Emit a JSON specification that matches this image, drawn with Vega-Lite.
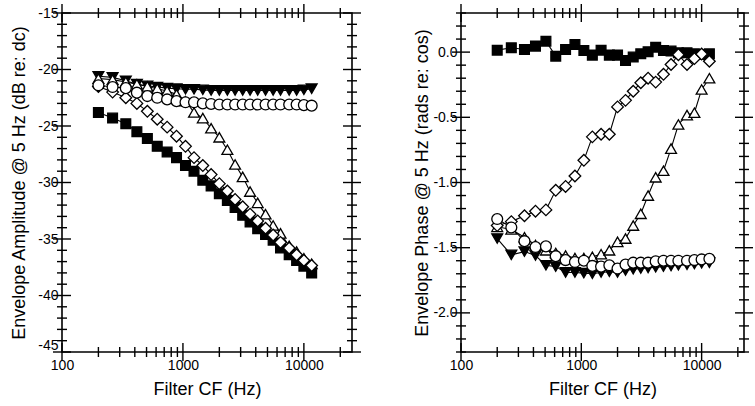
{
"$schema": "https://vega.github.io/schema/vega-lite/v6.json",
"padding": {"left": 9, "top": 3, "right": 8, "bottom": 0},
"config": {
 "font": "Liberation Sans",
 "view": {"stroke": "black", "strokeWidth": 1.6},
 "tick": {"color": "black", "thickness": 1.4, "opacity": 1},
 "axis": {"domain": false, "grid": false, "ticks": false, "labelColor": "black", "titleColor": "black", "labelFontSize": 14, "titleFontSize": 18, "titleFontWeight": "normal", "labelFont": "Liberation Sans", "titleFont": "Liberation Sans", "labelOverlap": false, "labelFlush": false}
},
"datasets": {
"xt": [{"t":100,"k":"M"},{"t":200,"k":"m"},{"t":300,"k":"m"},{"t":400,"k":"m"},{"t":500,"k":"m"},{"t":600,"k":"m"},{"t":700,"k":"m"},{"t":800,"k":"m"},{"t":900,"k":"m"},{"t":1000,"k":"M"},{"t":2000,"k":"m"},{"t":3000,"k":"m"},{"t":4000,"k":"m"},{"t":5000,"k":"m"},{"t":6000,"k":"m"},{"t":7000,"k":"m"},{"t":8000,"k":"m"},{"t":9000,"k":"m"},{"t":10000,"k":"M"},{"t":20000,"k":"m"}],
"ay": [{"t":-45,"k":"M"},{"t":-44,"k":"m"},{"t":-43,"k":"m"},{"t":-42,"k":"m"},{"t":-41,"k":"m"},{"t":-40,"k":"M"},{"t":-39,"k":"m"},{"t":-38,"k":"m"},{"t":-37,"k":"m"},{"t":-36,"k":"m"},{"t":-35,"k":"M"},{"t":-34,"k":"m"},{"t":-33,"k":"m"},{"t":-32,"k":"m"},{"t":-31,"k":"m"},{"t":-30,"k":"M"},{"t":-29,"k":"m"},{"t":-28,"k":"m"},{"t":-27,"k":"m"},{"t":-26,"k":"m"},{"t":-25,"k":"M"},{"t":-24,"k":"m"},{"t":-23,"k":"m"},{"t":-22,"k":"m"},{"t":-21,"k":"m"},{"t":-20,"k":"M"},{"t":-19,"k":"m"},{"t":-18,"k":"m"},{"t":-17,"k":"m"},{"t":-16,"k":"m"},{"t":-15,"k":"M"}],
"py": [{"t":-2.3,"k":"m"},{"t":-2.2,"k":"m"},{"t":-2.1,"k":"m"},{"t":-2.0,"k":"M"},{"t":-1.9,"k":"m"},{"t":-1.8,"k":"m"},{"t":-1.7,"k":"m"},{"t":-1.6,"k":"m"},{"t":-1.5,"k":"M"},{"t":-1.4,"k":"m"},{"t":-1.3,"k":"m"},{"t":-1.2,"k":"m"},{"t":-1.1,"k":"m"},{"t":-1.0,"k":"M"},{"t":-0.9,"k":"m"},{"t":-0.8,"k":"m"},{"t":-0.7,"k":"m"},{"t":-0.6,"k":"m"},{"t":-0.5,"k":"M"},{"t":-0.4,"k":"m"},{"t":-0.3,"k":"m"},{"t":-0.2,"k":"m"},{"t":-0.1,"k":"m"},{"t":0.0,"k":"M"},{"t":0.1,"k":"m"},{"t":0.2,"k":"m"},{"t":0.3,"k":"m"}],
"amp": [
{"s":"sq","cf":200,"v":-23.8},{"s":"sq","cf":262,"v":-24.3},{"s":"sq","cf":337,"v":-24.8},{"s":"sq","cf":416,"v":-25.5},{"s":"sq","cf":508,"v":-26.1},{"s":"sq","cf":613,"v":-26.8},{"s":"sq","cf":740,"v":-27.3},{"s":"sq","cf":885,"v":-27.8},{"s":"sq","cf":1050,"v":-28.5},{"s":"sq","cf":1235,"v":-29.0},{"s":"sq","cf":1460,"v":-29.8},{"s":"sq","cf":1710,"v":-30.3},{"s":"sq","cf":2000,"v":-31.0},{"s":"sq","cf":2330,"v":-31.6},{"s":"sq","cf":2700,"v":-32.2},{"s":"sq","cf":3120,"v":-32.9},{"s":"sq","cf":3590,"v":-33.5},{"s":"sq","cf":4150,"v":-34.1},{"s":"sq","cf":4820,"v":-34.6},{"s":"sq","cf":5570,"v":-35.1},{"s":"sq","cf":6410,"v":-35.8},{"s":"sq","cf":7560,"v":-36.4},{"s":"sq","cf":8710,"v":-36.9},{"s":"sq","cf":10000,"v":-37.4},{"s":"sq","cf":11600,"v":-38.0},
{"s":"td","cf":200,"v":-20.6},{"s":"td","cf":262,"v":-20.7},{"s":"td","cf":337,"v":-21.0},{"s":"td","cf":416,"v":-21.3},{"s":"td","cf":508,"v":-21.45},{"s":"td","cf":613,"v":-21.55},{"s":"td","cf":740,"v":-21.65},{"s":"td","cf":885,"v":-21.7},{"s":"td","cf":1050,"v":-21.75},{"s":"td","cf":1235,"v":-21.75},{"s":"td","cf":1460,"v":-21.8},{"s":"td","cf":1710,"v":-21.85},{"s":"td","cf":2000,"v":-21.85},{"s":"td","cf":2330,"v":-21.85},{"s":"td","cf":2700,"v":-21.85},{"s":"td","cf":3120,"v":-21.85},{"s":"td","cf":3590,"v":-21.85},{"s":"td","cf":4150,"v":-21.85},{"s":"td","cf":4820,"v":-21.85},{"s":"td","cf":5570,"v":-21.85},{"s":"td","cf":6410,"v":-21.85},{"s":"td","cf":7560,"v":-21.85},{"s":"td","cf":8710,"v":-21.85},{"s":"td","cf":10000,"v":-21.8},{"s":"td","cf":11600,"v":-21.7},
{"s":"tu","cf":200,"v":-20.8},{"s":"tu","cf":262,"v":-20.9},{"s":"tu","cf":337,"v":-21.1},{"s":"tu","cf":416,"v":-21.3},{"s":"tu","cf":508,"v":-21.5},{"s":"tu","cf":613,"v":-21.7},{"s":"tu","cf":740,"v":-21.9},{"s":"tu","cf":885,"v":-22.2},{"s":"tu","cf":1050,"v":-22.8},{"s":"tu","cf":1235,"v":-23.8},{"s":"tu","cf":1460,"v":-24.3},{"s":"tu","cf":1710,"v":-25.2},{"s":"tu","cf":2000,"v":-26.0},{"s":"tu","cf":2330,"v":-27.1},{"s":"tu","cf":2700,"v":-28.4},{"s":"tu","cf":3120,"v":-29.5},{"s":"tu","cf":3590,"v":-30.8},{"s":"tu","cf":4150,"v":-31.8},{"s":"tu","cf":4820,"v":-32.8},{"s":"tu","cf":5570,"v":-33.8},{"s":"tu","cf":6410,"v":-34.5},{"s":"tu","cf":7560,"v":-35.6},{"s":"tu","cf":8710,"v":-36.1},{"s":"tu","cf":10000,"v":-36.7},{"s":"tu","cf":11600,"v":-37.2},
{"s":"di","cf":200,"v":-21.5},{"s":"di","cf":262,"v":-22.0},{"s":"di","cf":337,"v":-22.5},{"s":"di","cf":416,"v":-23.0},{"s":"di","cf":508,"v":-23.7},{"s":"di","cf":613,"v":-24.4},{"s":"di","cf":740,"v":-25.1},{"s":"di","cf":885,"v":-25.9},{"s":"di","cf":1050,"v":-26.8},{"s":"di","cf":1235,"v":-27.8},{"s":"di","cf":1460,"v":-28.5},{"s":"di","cf":1710,"v":-29.3},{"s":"di","cf":2000,"v":-30.1},{"s":"di","cf":2330,"v":-30.75},{"s":"di","cf":2700,"v":-31.5},{"s":"di","cf":3120,"v":-32.15},{"s":"di","cf":3590,"v":-32.8},{"s":"di","cf":4150,"v":-33.4},{"s":"di","cf":4820,"v":-34.05},{"s":"di","cf":5570,"v":-34.65},{"s":"di","cf":6410,"v":-35.3},{"s":"di","cf":7560,"v":-35.8},{"s":"di","cf":8710,"v":-36.4},{"s":"di","cf":10000,"v":-36.9},{"s":"di","cf":11600,"v":-37.35},
{"s":"ci","cf":200,"v":-21.4},{"s":"ci","cf":262,"v":-21.55},{"s":"ci","cf":337,"v":-21.65},{"s":"ci","cf":416,"v":-22.05},{"s":"ci","cf":508,"v":-22.35},{"s":"ci","cf":613,"v":-22.5},{"s":"ci","cf":740,"v":-22.65},{"s":"ci","cf":885,"v":-22.8},{"s":"ci","cf":1050,"v":-22.9},{"s":"ci","cf":1235,"v":-22.9},{"s":"ci","cf":1460,"v":-23.0},{"s":"ci","cf":1710,"v":-23.05},{"s":"ci","cf":2000,"v":-23.1},{"s":"ci","cf":2330,"v":-23.1},{"s":"ci","cf":2700,"v":-23.1},{"s":"ci","cf":3120,"v":-23.1},{"s":"ci","cf":3590,"v":-23.1},{"s":"ci","cf":4150,"v":-23.1},{"s":"ci","cf":4820,"v":-23.1},{"s":"ci","cf":5570,"v":-23.1},{"s":"ci","cf":6410,"v":-23.1},{"s":"ci","cf":7560,"v":-23.1},{"s":"ci","cf":8710,"v":-23.1},{"s":"ci","cf":10000,"v":-23.15},{"s":"ci","cf":11600,"v":-23.2}
],
"phase": [
{"s":"sq","cf":200,"v":0.015},{"s":"sq","cf":262,"v":0.033},{"s":"sq","cf":337,"v":0.02},{"s":"sq","cf":416,"v":0.046},{"s":"sq","cf":508,"v":0.084},{"s":"sq","cf":613,"v":-0.031},{"s":"sq","cf":740,"v":0.02},{"s":"sq","cf":885,"v":0.059},{"s":"sq","cf":1050,"v":0.013},{"s":"sq","cf":1235,"v":-0.023},{"s":"sq","cf":1460,"v":0.015},{"s":"sq","cf":1710,"v":-0.023},{"s":"sq","cf":2000,"v":-0.023},{"s":"sq","cf":2330,"v":-0.064},{"s":"sq","cf":2700,"v":-0.038},{"s":"sq","cf":3120,"v":-0.013},{"s":"sq","cf":3590,"v":0.003},{"s":"sq","cf":4150,"v":0.038},{"s":"sq","cf":4820,"v":0.013},{"s":"sq","cf":5570,"v":0.008},{"s":"sq","cf":6410,"v":-0.005},{"s":"sq","cf":7560,"v":-0.005},{"s":"sq","cf":8710,"v":-0.013},{"s":"sq","cf":10000,"v":-0.018},{"s":"sq","cf":11600,"v":-0.013},
{"s":"td","cf":200,"v":-1.43},{"s":"td","cf":262,"v":-1.555},{"s":"td","cf":337,"v":-1.53},{"s":"td","cf":416,"v":-1.56},{"s":"td","cf":508,"v":-1.635},{"s":"td","cf":613,"v":-1.645},{"s":"td","cf":740,"v":-1.69},{"s":"td","cf":885,"v":-1.69},{"s":"td","cf":1050,"v":-1.695},{"s":"td","cf":1235,"v":-1.7},{"s":"td","cf":1460,"v":-1.69},{"s":"td","cf":1710,"v":-1.685},{"s":"td","cf":2000,"v":-1.69},{"s":"td","cf":2330,"v":-1.675},{"s":"td","cf":2700,"v":-1.665},{"s":"td","cf":3120,"v":-1.66},{"s":"td","cf":3590,"v":-1.655},{"s":"td","cf":4150,"v":-1.65},{"s":"td","cf":4820,"v":-1.645},{"s":"td","cf":5570,"v":-1.64},{"s":"td","cf":6410,"v":-1.635},{"s":"td","cf":7560,"v":-1.63},{"s":"td","cf":8710,"v":-1.625},{"s":"td","cf":10000,"v":-1.62},{"s":"td","cf":11600,"v":-1.615},
{"s":"tu","cf":200,"v":-1.34},{"s":"tu","cf":262,"v":-1.36},{"s":"tu","cf":337,"v":-1.42},{"s":"tu","cf":416,"v":-1.48},{"s":"tu","cf":508,"v":-1.52},{"s":"tu","cf":613,"v":-1.54},{"s":"tu","cf":740,"v":-1.56},{"s":"tu","cf":885,"v":-1.58},{"s":"tu","cf":1050,"v":-1.58},{"s":"tu","cf":1235,"v":-1.57},{"s":"tu","cf":1460,"v":-1.55},{"s":"tu","cf":1710,"v":-1.52},{"s":"tu","cf":2000,"v":-1.455},{"s":"tu","cf":2330,"v":-1.43},{"s":"tu","cf":2700,"v":-1.33},{"s":"tu","cf":3120,"v":-1.24},{"s":"tu","cf":3590,"v":-1.1},{"s":"tu","cf":4150,"v":-0.96},{"s":"tu","cf":4820,"v":-0.91},{"s":"tu","cf":5570,"v":-0.74},{"s":"tu","cf":6410,"v":-0.555},{"s":"tu","cf":7560,"v":-0.483},{"s":"tu","cf":8710,"v":-0.465},{"s":"tu","cf":10000,"v":-0.286},{"s":"tu","cf":11600,"v":-0.2},
{"s":"di","cf":200,"v":-1.33},{"s":"di","cf":262,"v":-1.3},{"s":"di","cf":337,"v":-1.255},{"s":"di","cf":416,"v":-1.22},{"s":"di","cf":508,"v":-1.21},{"s":"di","cf":613,"v":-1.06},{"s":"di","cf":740,"v":-1.03},{"s":"di","cf":885,"v":-0.95},{"s":"di","cf":1050,"v":-0.83},{"s":"di","cf":1235,"v":-0.65},{"s":"di","cf":1460,"v":-0.63},{"s":"di","cf":1710,"v":-0.63},{"s":"di","cf":2000,"v":-0.42},{"s":"di","cf":2330,"v":-0.37},{"s":"di","cf":2700,"v":-0.3},{"s":"di","cf":3120,"v":-0.235},{"s":"di","cf":3590,"v":-0.2},{"s":"di","cf":4150,"v":-0.23},{"s":"di","cf":4820,"v":-0.17},{"s":"di","cf":5570,"v":-0.095},{"s":"di","cf":6410,"v":-0.02},{"s":"di","cf":7560,"v":-0.095},{"s":"di","cf":8710,"v":-0.05},{"s":"di","cf":10000,"v":-0.015},{"s":"di","cf":11600,"v":-0.07},
{"s":"ci","cf":200,"v":-1.28},{"s":"ci","cf":262,"v":-1.345},{"s":"ci","cf":337,"v":-1.45},{"s":"ci","cf":416,"v":-1.495},{"s":"ci","cf":508,"v":-1.49},{"s":"ci","cf":613,"v":-1.565},{"s":"ci","cf":740,"v":-1.595},{"s":"ci","cf":885,"v":-1.61},{"s":"ci","cf":1050,"v":-1.6},{"s":"ci","cf":1235,"v":-1.64},{"s":"ci","cf":1460,"v":-1.645},{"s":"ci","cf":1710,"v":-1.635},{"s":"ci","cf":2000,"v":-1.66},{"s":"ci","cf":2330,"v":-1.63},{"s":"ci","cf":2700,"v":-1.615},{"s":"ci","cf":3120,"v":-1.615},{"s":"ci","cf":3590,"v":-1.615},{"s":"ci","cf":4150,"v":-1.605},{"s":"ci","cf":4820,"v":-1.6},{"s":"ci","cf":5570,"v":-1.6},{"s":"ci","cf":6410,"v":-1.6},{"s":"ci","cf":7560,"v":-1.6},{"s":"ci","cf":8710,"v":-1.595},{"s":"ci","cf":10000,"v":-1.59},{"s":"ci","cf":11600,"v":-1.585}
]
},
"bounds": "flush",
"spacing": 109,
"hconcat": [
{
 "width": 290, "height": 339,
 "layer": [
  {"data": {"name": "xt"}, "mark": {"type": "tick", "orient": "vertical"},
   "encoding": {"x": {"field": "t", "type": "quantitative", "axis": null}, "y": {"datum": -45, "type": "quantitative", "axis": null},
    "size": {"condition": {"test": "datum.k == 'M'", "value": 18}, "value": 10}}},
  {"data": {"name": "xt"}, "mark": {"type": "tick", "orient": "vertical"},
   "encoding": {"x": {"field": "t", "type": "quantitative", "axis": null}, "y": {"datum": -15, "type": "quantitative", "axis": null},
    "size": {"condition": {"test": "datum.k == 'M'", "value": 18}, "value": 10}}},
  {"data": {"name": "ay"}, "mark": {"type": "tick", "orient": "horizontal"},
   "encoding": {"y": {"field": "t", "type": "quantitative", "axis": null}, "x": {"datum": 100, "type": "quantitative", "axis": null},
    "size": {"condition": {"test": "datum.k == 'M'", "value": 18}, "value": 10}}},
  {"data": {"name": "ay"}, "mark": {"type": "tick", "orient": "horizontal"},
   "encoding": {"y": {"field": "t", "type": "quantitative", "axis": null}, "x": {"datum": 25000, "type": "quantitative", "axis": null},
    "size": {"condition": {"test": "datum.k == 'M'", "value": 18}, "value": 10}}},
  {"data": {"name": "amp"}, "mark": {"type": "line", "color": "black", "strokeWidth": 1.1},
   "encoding": {
    "x": {"field": "cf", "type": "quantitative", "scale": {"type": "log", "domain": [100, 25000], "nice": false},
      "axis": {"orient": "bottom", "values": [100, 1000, 10000], "format": "d", "labelPadding": 6, "title": "Filter CF (Hz)", "titlePadding": 8}},
    "y": {"field": "v", "type": "quantitative", "scale": {"domain": [-45, -15], "nice": false, "zero": false},
      "axis": {"orient": "left", "values": [-45, -40, -35, -30, -25, -20, -15],
        "labelExpr": "(datum.value < 0 ? '-' : '') + format(abs(datum.value), 'd')",
        "labelBaseline": {"condition": {"test": "datum.value == -45", "value": "bottom"}, "value": "middle"},
        "labelPadding": 4, "title": "Envelope Amplitude @ 5 Hz (dB re: dc)", "titlePadding": 9}},
    "detail": {"field": "s"}
   }},
  {"data": {"name": "amp"}, "mark": {"type": "point", "filled": true, "stroke": "black", "strokeWidth": 1.3, "opacity": 1},
   "encoding": {
    "x": {"field": "cf", "type": "quantitative", "axis": null},
    "y": {"field": "v", "type": "quantitative", "axis": null},
    "shape": {"field": "s", "type": "nominal", "scale": {"domain": ["sq","td","tu","di","ci"], "range": ["square","triangle-down","triangle-up","diamond","circle"]}, "legend": null},
    "fill": {"field": "s", "type": "nominal", "scale": {"domain": ["sq","td","tu","di","ci"], "range": ["black","black","white","white","white"]}, "legend": null},
    "size": {"condition": [{"test": "datum.s == 'sq'", "value": 95}, {"test": "datum.s == 'di'", "value": 135}], "value": 118}
   }}
 ],
 "resolve": {"axis": {"x": "independent", "y": "independent"}}
},
{
 "width": 283, "height": 339,
 "layer": [
  {"data": {"name": "xt"}, "mark": {"type": "tick", "orient": "vertical"},
   "encoding": {"x": {"field": "t", "type": "quantitative", "axis": null}, "y": {"datum": -2.3, "type": "quantitative", "axis": null},
    "size": {"condition": {"test": "datum.k == 'M'", "value": 18}, "value": 10}}},
  {"data": {"name": "xt"}, "mark": {"type": "tick", "orient": "vertical"},
   "encoding": {"x": {"field": "t", "type": "quantitative", "axis": null}, "y": {"datum": 0.3, "type": "quantitative", "axis": null},
    "size": {"condition": {"test": "datum.k == 'M'", "value": 18}, "value": 10}}},
  {"data": {"name": "py"}, "mark": {"type": "tick", "orient": "horizontal"},
   "encoding": {"y": {"field": "t", "type": "quantitative", "axis": null}, "x": {"datum": 100, "type": "quantitative", "axis": null},
    "size": {"condition": {"test": "datum.k == 'M'", "value": 18}, "value": 10}}},
  {"data": {"name": "py"}, "mark": {"type": "tick", "orient": "horizontal"},
   "encoding": {"y": {"field": "t", "type": "quantitative", "axis": null}, "x": {"datum": 22500, "type": "quantitative", "axis": null},
    "size": {"condition": {"test": "datum.k == 'M'", "value": 18}, "value": 10}}},
  {"data": {"name": "phase"}, "mark": {"type": "line", "color": "black", "strokeWidth": 1.1},
   "encoding": {
    "x": {"field": "cf", "type": "quantitative", "scale": {"type": "log", "domain": [100, 22500], "nice": false},
      "axis": {"orient": "bottom", "values": [100, 1000, 10000], "format": "d", "labelPadding": 6, "title": "Filter CF (Hz)", "titlePadding": 8}},
    "y": {"field": "v", "type": "quantitative", "scale": {"domain": [-2.3, 0.3], "nice": false, "zero": false},
      "axis": {"orient": "left", "values": [-2.0, -1.5, -1.0, -0.5, 0.0],
        "labelExpr": "(datum.value < -0.001 ? '-' : '') + format(abs(datum.value), '.1f')",
        "labelPadding": 4, "title": "Envelope Phase @ 5 Hz (rads re: cos)", "titlePadding": 1}},
    "detail": {"field": "s"}
   }},
  {"data": {"name": "phase"}, "mark": {"type": "point", "filled": true, "stroke": "black", "strokeWidth": 1.3, "opacity": 1},
   "encoding": {
    "x": {"field": "cf", "type": "quantitative", "axis": null},
    "y": {"field": "v", "type": "quantitative", "axis": null},
    "shape": {"field": "s", "type": "nominal", "scale": {"domain": ["sq","td","tu","di","ci"], "range": ["square","triangle-down","triangle-up","diamond","circle"]}, "legend": null},
    "fill": {"field": "s", "type": "nominal", "scale": {"domain": ["sq","td","tu","di","ci"], "range": ["black","black","white","white","white"]}, "legend": null},
    "size": {"condition": [{"test": "datum.s == 'sq'", "value": 95}, {"test": "datum.s == 'di'", "value": 135}], "value": 118}
   }}
 ],
 "resolve": {"axis": {"x": "independent", "y": "independent"}}
}
]
}
